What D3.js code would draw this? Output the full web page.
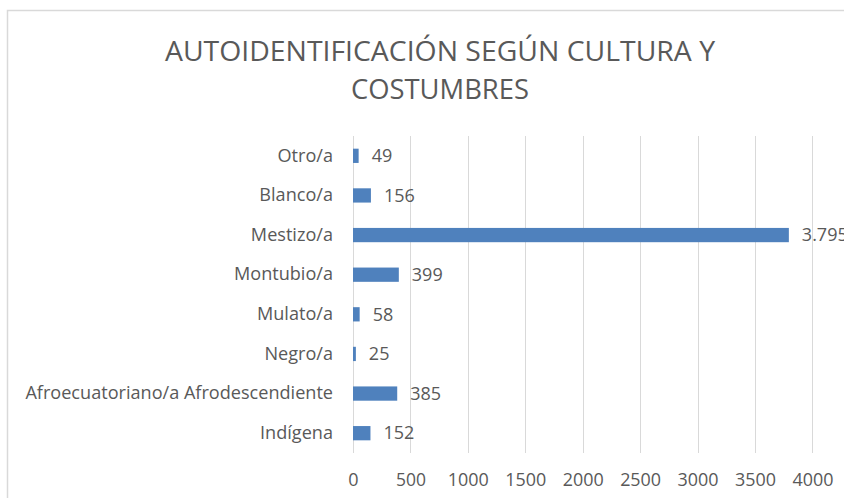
<!DOCTYPE html>
<html>
<head>
<meta charset="utf-8">
<script src="https://cdnjs.cloudflare.com/ajax/libs/d3/7.8.5/d3.min.js"></script>
<style>
  body { margin: 0; background: #fff; overflow: hidden; }
  text { font-family: "Open Sans", "Noto Sans", sans-serif; fill: #595959; }
</style>
</head>
<body>
<div id="chart"></div>
<script>
// data
var categories = ["Otro/a", "Blanco/a", "Mestizo/a", "Montubio/a", "Mulato/a",
                  "Negro/a", "Afroecuatoriano/a Afrodescendiente", "Indígena"];
var values = [49, 156, 3795, 399, 58, 25, 385, 152];
var xTicks = [0, 500, 1000, 1500, 2000, 2500, 3000, 3500, 4000];
var titleLines = ["AUTOIDENTIFICACIÓN SEGÚN CULTURA Y", "COSTUMBRES"];

var svgWidth = 844;
var svgHeight = 498;

var margin = { top: 136, left: 353, right: 31, bottom: 45 };

var svg = d3.select("#chart")
  .append("svg")
  .attr("width", svgWidth)
  .attr("height", svgHeight);

// chart border (runs off the right and bottom of the picture, as in the original)
svg.append("rect")
  .attr("x", 7.5)
  .attr("y", 10.5)
  .attr("width", 900)
  .attr("height", 600)
  .attr("fill", "#fff")
  .attr("stroke", "#d9d9d9")
  .attr("stroke-width", 1.5);

// title
svg.append("g")
  .selectAll("text")
  .data(titleLines)
  .enter()
  .append("text")
  .attr("x", 440)
  .attr("y", (d, i) => 61 + i * 38)
  .attr("text-anchor", "middle")
  .style("font-size", "27px")
  .attr("textLength", (d, i) => i === 0 ? 550 : 178)
  .attr("lengthAdjust", "spacingAndGlyphs")
  .text(d => d);

var chartGroup = svg.append("g")
  .attr("transform", `translate(${margin.left}, ${margin.top})`);

var xScale = d3.scaleLinear()
  .domain([0, 4000])
  .range([0, 459.4]);

var yScale = d3.scaleBand()
  .domain(categories)
  .range([0, 317])
  .paddingInner(0.64)
  .paddingOuter(0.32);

// gridlines
chartGroup.append("g")
  .selectAll("line")
  .data(xTicks)
  .enter()
  .append("line")
  .attr("x1", d => Math.round(xScale(d)) + 0.5)
  .attr("x2", d => Math.round(xScale(d)) + 0.5)
  .attr("y1", 0)
  .attr("y2", 317)
  .attr("stroke", "#d9d9d9")
  .attr("stroke-width", 1);

// x axis labels
var xAxis = d3.axisBottom(xScale).tickValues(xTicks).tickSize(0).tickPadding(0).tickFormat(d3.format("d"));
var xAxisGroup = chartGroup.append("g")
  .attr("transform", "translate(0, 344)")
  .call(xAxis);
xAxisGroup.select(".domain").remove();
xAxisGroup.selectAll("text")
  .style("font-size", "18px")
  .attr("fill", "#595959")
  .attr("dy", "0.35em")
  .attr("textLength", d => d === 0 ? null : (d < 1000 ? 30 : 41))
  .attr("lengthAdjust", "spacingAndGlyphs");

// y axis labels
var yAxis = d3.axisLeft(yScale).tickSize(0).tickPadding(20);
var yAxisGroup = chartGroup.append("g").call(yAxis);
yAxisGroup.select(".domain").remove();
yAxisGroup.selectAll("text")
  .style("font-size", "18.1px")
  .attr("fill", "#595959");

// bars
chartGroup.append("g")
  .selectAll("rect")
  .data(values)
  .enter()
  .append("rect")
  .attr("x", 0)
  .attr("y", (d, i) => yScale(categories[i]))
  .attr("width", d => xScale(d))
  .attr("height", yScale.bandwidth())
  .attr("fill", "#4f81bd");

// data labels
var labelFormat = d3.formatLocale({ decimal: ",", thousands: ".", grouping: [3], currency: ["", ""] }).format(",d");
chartGroup.append("g")
  .selectAll("text")
  .data(values)
  .enter()
  .append("text")
  .attr("x", d => xScale(d) + 13)
  .attr("y", (d, i) => yScale(categories[i]) + yScale.bandwidth() / 2)
  .attr("dy", "0.35em")
  .style("font-size", "18px")
  .text(d => labelFormat(d));
</script>
</body>
</html>
